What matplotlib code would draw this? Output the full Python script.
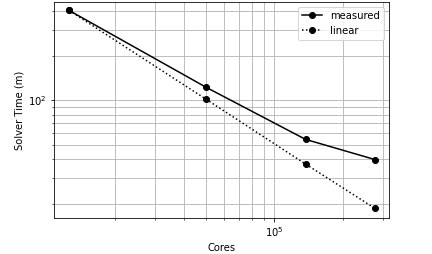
import matplotlib
matplotlib.use('Agg')
import matplotlib.pyplot as plt

# values (log-log scaling plot)
cores = [12560, 50200, 136900, 276000]
measured = [406, 122.5, 54.5, 39.8]
linear = [406, 101.6, 37.1, 18.6]

fig = plt.figure(figsize=(6.0, 254 / 72), dpi=72)
ax = fig.add_axes([0.125, 0.14, 0.776, 0.853])

ax.loglog(cores, measured, '-o', color='black', label='measured')
ax.loglog(cores, linear, ':o', color='black', label='linear')

ax.set_xlim(10770, 319000)
ax.set_ylim(15.9, 465)
ax.grid(True, which='both')
ax.set_xlabel('Cores')
ax.set_ylabel('Solver Time (m)')
ax.legend(loc='upper right')

fig.savefig('out.png', dpi=72)
